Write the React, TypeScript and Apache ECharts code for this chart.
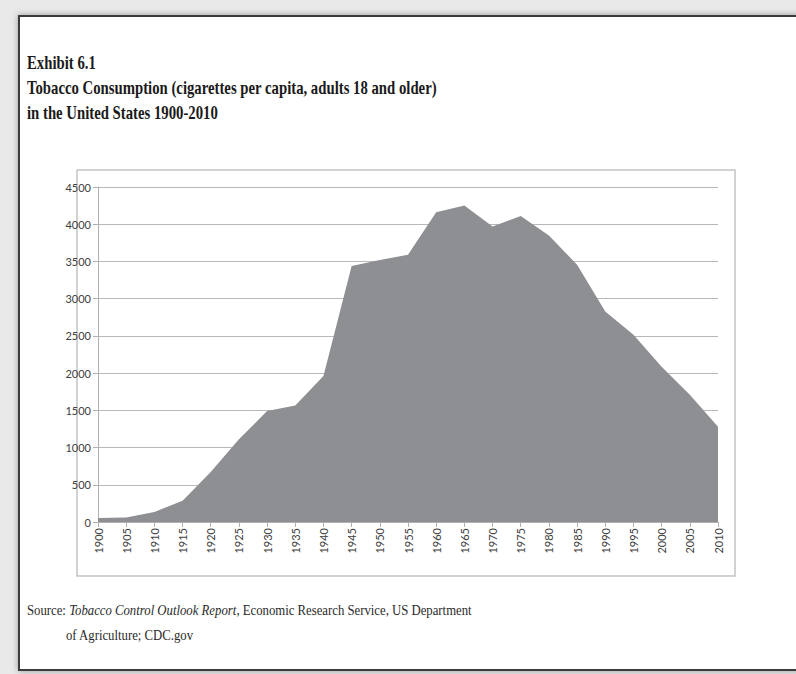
import React, { useEffect, useRef } from "react";
import * as echarts from "echarts";

const years = ["1900","1905","1910","1915","1920","1925","1930","1935","1940","1945","1950","1955","1960","1965","1970","1975","1980","1985","1990","1995","2000","2005","2010"];
const cigarettes = [54, 60, 135, 285, 670, 1110, 1490, 1565, 1960, 3440, 3520, 3590, 4160, 4250, 3970, 4110, 3850, 3455, 2827, 2515, 2085, 1710, 1280];
const titleLines = ["Exhibit 6.1", "Tobacco Consumption (cigarettes per capita, adults 18 and older)", "in the United States 1900-2010"];

export default function App() {
  const ref = useRef<HTMLDivElement>(null);
  useEffect(() => {
    const chart = echarts.init(ref.current!, null, { renderer: "svg" });
    const serif = "'Liberation Serif', 'Times New Roman', serif";
    chart.setOption({
      animation: false,
      backgroundColor: "#e9e9e9",
      graphic: [
        { type: "rect", z: -10, shape: { x: 19, y: 16, width: 800, height: 654 }, style: { fill: "#ffffff", stroke: "#3a3a3a", lineWidth: 2, shadowBlur: 6, shadowColor: "rgba(0,0,0,0.35)" } },
        { type: "rect", z: -5, shape: { x: 77, y: 170, width: 658, height: 406 }, style: { fill: "#ffffff", stroke: "#c4c4c4", lineWidth: 1.5 } },
        ...titleLines.map((t, i) => ({
          type: "text", x: 27, y: 63 + i * 25, scaleX: 0.82,
          style: { text: t, font: `bold 18px ${serif}`, fill: "#1a1a1a", textVerticalAlign: "middle" },
        })),
        {
          type: "text", x: 27, y: 610, scaleX: 0.85,
          style: {
            text: "Source: {i|Tobacco Control Outlook Report}, Economic Research Service, US Department",
            font: `15px ${serif}`, fill: "#2a2a2a", textVerticalAlign: "middle",
            rich: { i: { fontStyle: "italic", fontSize: 15, fontFamily: "Liberation Serif", fill: "#2a2a2a" } },
          },
        },
        {
          type: "text", x: 66, y: 635, scaleX: 0.85,
          style: { text: "of Agriculture; CDC.gov", font: `15px ${serif}`, fill: "#2a2a2a", textVerticalAlign: "middle" },
        },
      ],
      grid: { left: 98, right: 78, top: 187, bottom: 152, containLabel: false },
      xAxis: {
        type: "category",
        data: years,
        boundaryGap: false,
        axisLine: { lineStyle: { color: "#b0b0b0", width: 1 } },
        axisTick: { show: true, length: 5, lineStyle: { color: "#b0b0b0" } },
        axisLabel: { rotate: 90, fontFamily: "Lato, 'Open Sans', sans-serif", fontSize: 11, color: "#404040", margin: 6, interval: 0 },
      },
      yAxis: {
        type: "value",
        min: 0, max: 4500, interval: 500,
        axisLine: { show: true, lineStyle: { color: "#b0b0b0" } },
        axisTick: { show: true, length: 5, lineStyle: { color: "#b0b0b0" } },
        splitLine: { lineStyle: { color: "#b8b8b8", width: 1 } },
        axisLabel: { fontFamily: "Lato, 'Open Sans', sans-serif", fontSize: 11, color: "#404040", margin: 7, formatter: (v: number) => String(v) },
      },
      series: [
        {
          type: "line",
          data: cigarettes,
          symbol: "none",
          lineStyle: { width: 0 },
          areaStyle: { color: "#8e8f93", opacity: 1 },
          z: 3,
        },
      ],
    });
    return () => chart.dispose();
  }, []);
  return <div ref={ref} style={{ position: "absolute", left: 0, top: 0, width: 796, height: 674 }} />;
}
